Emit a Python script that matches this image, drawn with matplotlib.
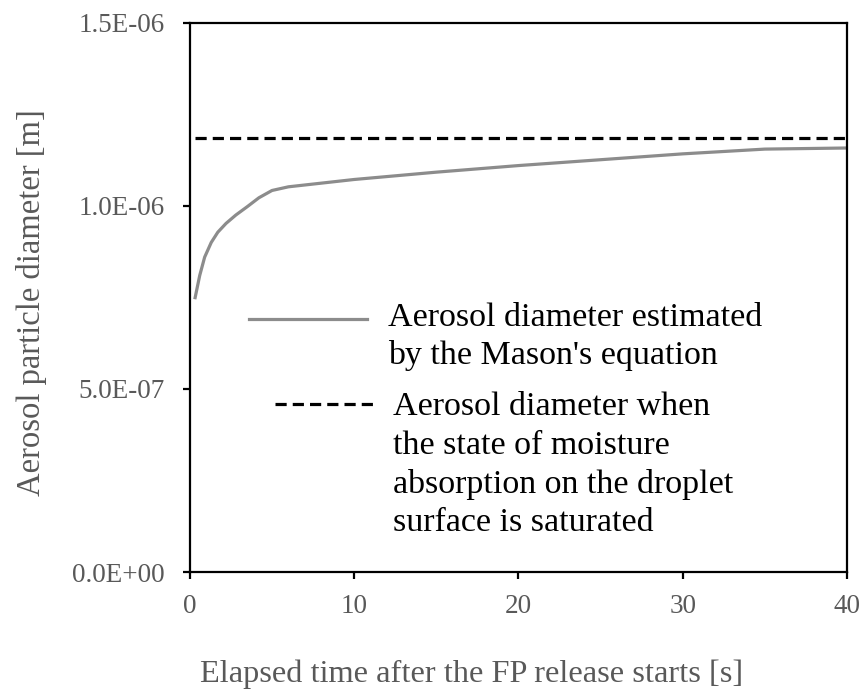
import numpy as np
import matplotlib.pyplot as plt
from matplotlib.lines import Line2D

# data
time_s = [0.3, 0.6, 0.9, 1.3, 1.7, 2.2, 2.8, 3.5, 4.2, 5.0, 6.0, 8.0, 10.0,
          15.0, 20.0, 25.0, 30.0, 35.0, 40.0]
mason_diam = [0.745e-6, 0.810e-6, 0.860e-6, 0.900e-6, 0.928e-6, 0.952e-6,
              0.975e-6, 0.998e-6, 1.022e-6, 1.042e-6, 1.052e-6, 1.062e-6,
              1.072e-6, 1.092e-6, 1.110e-6, 1.126e-6, 1.142e-6, 1.155e-6,
              1.158e-6]
sat_time = [0.3, 40.0]
sat_diam = [1.185e-6, 1.185e-6]

yticks = [0, 5e-7, 1e-6, 1.5e-6]
ytick_labels = ['0.0E+00', '5.0E-07', '1.0E-06', '1.5E-06']
xticks = [0, 10, 20, 30, 40]

label_mason = "Aerosol diameter estimated\nby the Mason's equation"
label_sat = ("Aerosol diameter when\nthe state of moisture\n"
             "absorption on the droplet\nsurface is saturated")

plt.rcParams['font.family'] = ['Liberation Serif', 'DejaVu Serif']
grey_txt = '#595959'

fig = plt.figure(figsize=(8.67, 6.90), dpi=100)
ax = fig.add_axes([0.219, 0.171, 0.758, 0.796])

ax.plot(time_s, mason_diam, color='#8c8c8c', lw=2.3, solid_capstyle='butt')
ax.plot(sat_time, sat_diam, color='black', lw=2.3, dashes=(3.5, 1.9))

ax.set_xlim(0, 40)
ax.set_ylim(0, 1.5e-6)
ax.set_xticks(xticks)
ax.set_yticks(yticks)
ax.set_yticklabels(ytick_labels)
for s in ax.spines.values():
    s.set_linewidth(1.6)
ax.tick_params(direction='out', length=5, width=1.6, labelsize=19.5,
               labelcolor=grey_txt)
ax.tick_params(axis='y', pad=13)
ax.tick_params(axis='x', pad=11)

ax.set_xlabel('Elapsed time after the FP release starts [s]', fontsize=23.3,
              color=grey_txt)
ax.xaxis.set_label_coords(0.428, -0.159)
ax.set_ylabel('Aerosol particle diameter [m]', fontsize=23.5, color=grey_txt)
ax.yaxis.set_label_coords(-0.217, 0.49)

# legend drawn by hand so the handles sit on the first text line
ax.add_line(Line2D([0.09, 0.269], [0.461, 0.461], transform=ax.transAxes,
                   color='#8c8c8c', lw=2.3))
ax.text(0.302, 0.4915, label_mason, transform=ax.transAxes, fontsize=24.5,
        va='top', ha='left', linespacing=1.33)
ax.add_line(Line2D([0.129, 0.282], [0.306, 0.306], transform=ax.transAxes,
                   color='black', lw=2.3, dashes=(3.5, 1.9)))
ax.text(0.309, 0.328, label_sat, transform=ax.transAxes, fontsize=24.5,
        va='top', ha='left', linespacing=1.33)

plt.savefig('out.png', dpi=100)
